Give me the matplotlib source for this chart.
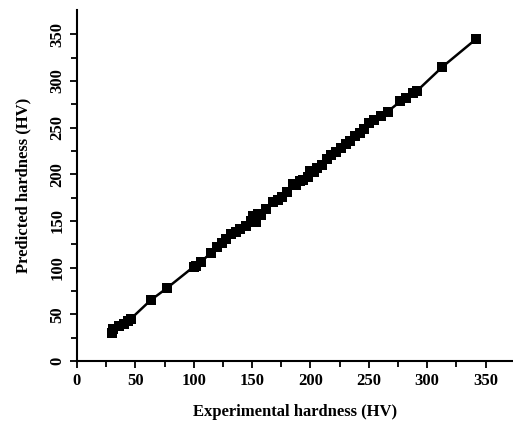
import matplotlib.pyplot as plt

plt.rcParams['font.family'] = ['Liberation Serif', 'DejaVu Serif']
plt.rcParams['font.weight'] = 'bold'

experimental = [30, 31, 36, 40, 44, 46, 63, 77, 100, 102, 106, 115, 120, 124,
                128, 132, 136, 140, 145, 149, 151, 153, 155, 158, 162, 168,
                172, 176, 180, 185, 188, 191, 194, 198, 200, 203, 206, 210,
                214, 218, 222, 226, 230, 234, 238, 242, 246, 250, 254, 260,
                266, 277, 282, 288, 291, 313, 342]
predicted = [30, 34, 37, 40, 43, 45, 65, 78, 101, 102, 106, 116, 122, 126,
             131, 136, 138, 141, 145, 150, 155, 149, 157, 156, 163, 170,
             172, 176, 181, 190, 188, 193, 194, 197, 203, 202, 207, 210,
             216, 221, 224, 228, 232, 236, 241, 244, 248, 255, 258, 262,
             267, 278, 282, 287, 289, 315, 345]

fig = plt.figure(figsize=(5.13, 4.21), dpi=100)
ax = fig.add_axes([0.150, 0.1425, 0.849, 0.834])

ax.plot(experimental, predicted, color='black', lw=1.8, marker='s',
        markersize=7, markeredgewidth=0)

ax.set_xlim(0, 373)
ax.set_ylim(0, 376)
ax.set_xticks(range(0, 351, 50))
ax.set_yticks(range(0, 351, 50))
ax.set_xticks(range(25, 351, 50), minor=True)
ax.set_yticks(range(25, 351, 50), minor=True)
for s in ['top', 'right']:
    ax.spines[s].set_visible(False)
for s in ['left', 'bottom']:
    ax.spines[s].set_linewidth(1.5)
ax.tick_params(which='both', direction='out', width=1.3, labelsize=12)
ax.tick_params(which='major', length=5)
ax.tick_params(which='minor', length=4)
for lbl in ax.get_yticklabels():
    lbl.set_rotation(90)
    lbl.set_va('center')

ax.set_xlabel('Experimental hardness (HV)', fontsize=12, fontweight='bold',
              labelpad=11)
ax.set_ylabel('Predicted hardness (HV)', fontsize=12, fontweight='bold',
              labelpad=13)

plt.savefig('out.png', dpi=100)
